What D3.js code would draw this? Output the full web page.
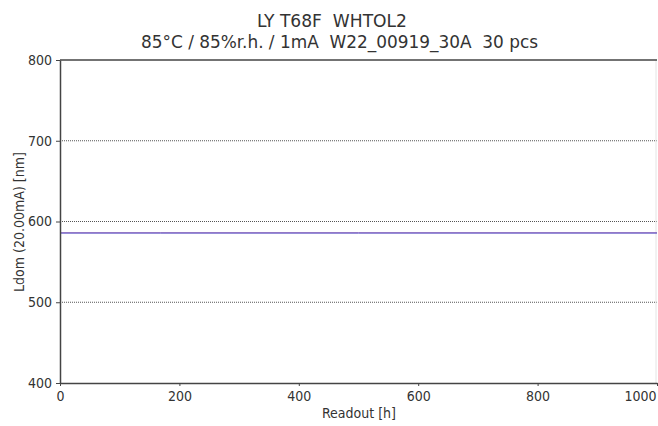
<!DOCTYPE html>
<html><head><meta charset="utf-8">
<script src="https://cdn.jsdelivr.net/npm/d3@7"></script>
<style>
body{margin:0;background:#fff;}
text{font-family:"DejaVu Sans Condensed","DejaVu Sans",sans-serif;fill:#333;white-space:pre;}
</style></head>
<body>
<svg id="c" width="658" height="426"></svg>
<script>
const titleLines = ["LY T68F  WHTOL2", "85\u00B0C / 85%r.h. / 1mA  W22_00919_30A  30 pcs"];
const xLabel = "Readout [h]";
const yLabel = "Ldom (20.00mA) [nm]";
const xTicks = [0, 200, 400, 600, 800, 1000];
const yTicks = [400, 500, 600, 700, 800];
const gridValues = [500, 600, 700];
const readouts = [0, 168, 500, 1000];
const ldomMin = [585.6, 585.6, 585.6, 585.6];
const ldomMax = [586.2, 586.2, 586.2, 586.2];

const svg = d3.select("#c");
const m = {l:60, r:1, t:60, b:43};
const W = 658, H = 426;
const x = d3.scaleLinear().domain([0,1000]).range([m.l, W - m.r]);
const y = d3.scaleLinear().domain([400,800]).range([H - m.b, m.t]);

const titlePos = [{x:257, y:27, w:150}, {x:141, y:48, w:397}];
svg.selectAll("text.title").data(titleLines).enter().append("text")
  .attr("xml:space","preserve")
  .attr("x", (d,i)=> titlePos[i].x).attr("y", (d,i)=> titlePos[i].y)
  .attr("font-size",17)
  .attr("textLength", (d,i)=> titlePos[i].w).attr("lengthAdjust","spacingAndGlyphs")
  .text(d=>d);

// grid
svg.selectAll("line.grid").data(gridValues).enter().append("line")
  .attr("x1", x(0)).attr("x2", x(1000))
  .attr("y1", d=>y(d)).attr("y2", d=>y(d))
  .attr("stroke","#555").attr("stroke-width",1).attr("stroke-dasharray","1,1");

// right faint border
svg.append("line").attr("x1",x(1000)-1).attr("x2",x(1000)-1).attr("y1",y(800)).attr("y2",y(400))
  .attr("stroke","#e4e4e4").attr("stroke-width",1);
// top border
svg.append("line").attr("x1",x(0)).attr("x2",x(1000)).attr("y1",y(800)).attr("y2",y(800))
  .attr("stroke","#444").attr("stroke-width",1.5);

// data lines
const line = d3.line().x((d,i)=>x(readouts[i])).y(d=>y(d));
[ldomMin, ldomMax].forEach((s,k)=>{
  svg.append("path").datum(s).attr("d", line).attr("fill","none")
    .attr("stroke", k==0 ? "#5b54c8" : "#8a6cc0").attr("stroke-width",1);
});

// axes
const xa = svg.append("g").attr("transform",`translate(0,${y(400)})`)
  .call(d3.axisBottom(x).tickValues(xTicks).tickFormat(d3.format("d")).tickSize(3).tickSizeOuter(0));
const ya = svg.append("g").attr("transform",`translate(${x(0)},0)`)
  .call(d3.axisLeft(y).tickValues(yTicks).tickFormat(d3.format("d")).tickSize(4).tickSizeOuter(0));
[xa, ya].forEach(a=>{
  a.select(".domain").attr("stroke","#444").attr("stroke-width",1.5);
  a.selectAll(".tick line").attr("stroke","#444");
  a.selectAll(".tick text").attr("font-size",14).attr("fill","#333")
    .style("font-family","'DejaVu Sans Condensed','DejaVu Sans',sans-serif");
});
xa.selectAll(".tick text").attr("dy","0.85em");
xa.selectAll(".tick").filter(d=>d===1000).select("text").attr("text-anchor","end").attr("dx","-1");
ya.selectAll(".tick text").attr("dx","-1").attr("dy","0.32em");

svg.append("text").attr("x", 359).attr("y", 418).attr("text-anchor","middle")
  .attr("font-size",14).text(xLabel);
svg.append("text").attr("transform","translate(24,222) rotate(-90)").attr("text-anchor","middle")
  .attr("font-size",14).text(yLabel);
</script>
</body></html>
